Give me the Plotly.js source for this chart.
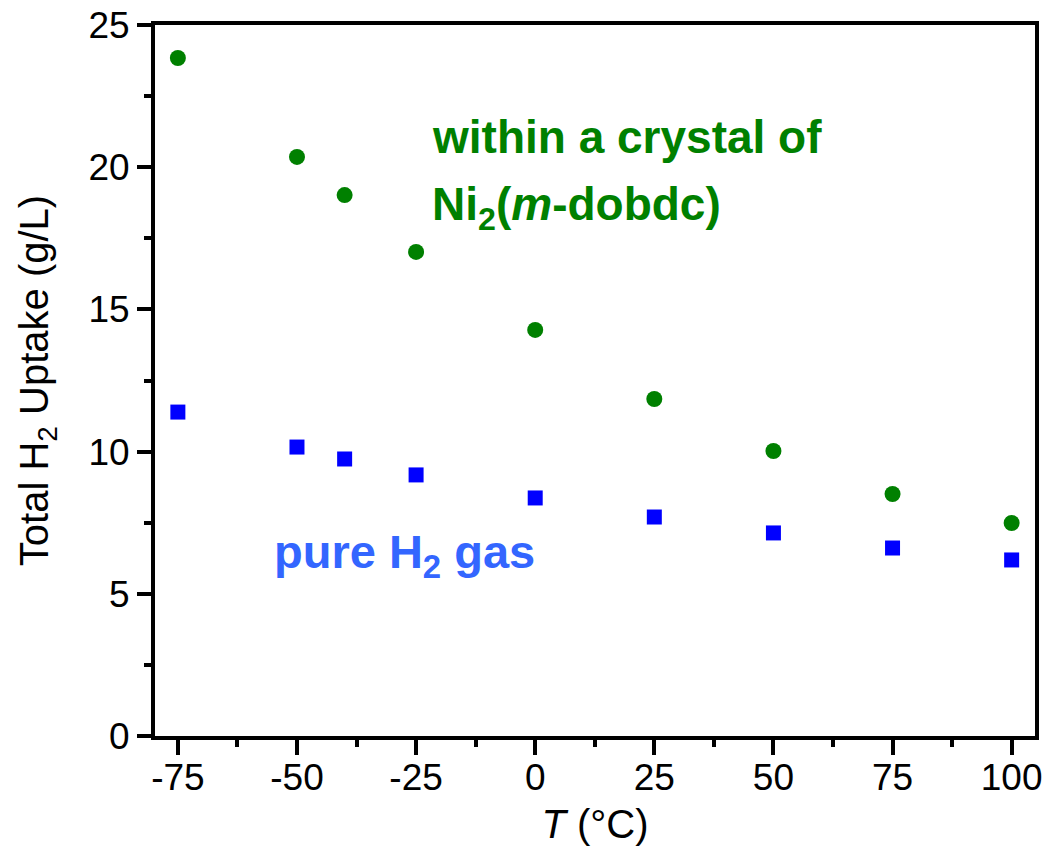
<!DOCTYPE html>
<html>
<head>
<meta charset="utf-8">
<script src="https://cdn.plot.ly/plotly-3.0.1.min.js"></script>
<style>html,body{margin:0;padding:0;background:#fff;}#chart{width:1047px;height:853px;}</style>
</head>
<body>
<div id="chart"></div>
<script>
// Data
const temperatures = [-75, -50, -40, -25, 0, 25, 50, 75, 100];
const crystalUptake = [23.84, 20.36, 19.02, 17.02, 14.28, 11.85, 10.02, 8.51, 7.49];
const pureGasUptake = [11.39, 10.16, 9.74, 9.18, 8.37, 7.70, 7.14, 6.61, 6.19];
const xTickVals = [-75, -50, -25, 0, 25, 50, 75, 100];
const xTickText = ["-75", "-50", "-25", "0", "25", "50", "75", "100"];
const yTickVals = [0, 5, 10, 15, 20, 25];
const yTickText = ["0", "5", "10", "15", "20", "25"];

const FONT = "Liberation Sans, Arial, Helvetica, sans-serif";
const GREEN = "#008000";
const BLUE = "#0000FF";
const TEXTBLUE = "#3366FF";

const traces = [
  {
    x: temperatures, y: crystalUptake, type: "scatter", mode: "markers",
    name: "within a crystal of Ni2(m-dobdc)",
    marker: {symbol: "circle", size: 16, color: GREEN, line: {width: 0}}
  },
  {
    x: temperatures, y: pureGasUptake, type: "scatter", mode: "markers",
    name: "pure H2 gas",
    marker: {symbol: "square", size: 15, color: BLUE, line: {width: 0}}
  }
];

const layout = {
  width: 1047, height: 853,
  margin: {l: 155, r: 12, t: 25, b: 117},
  paper_bgcolor: "#fff", plot_bgcolor: "#fff",
  showlegend: false,
  font: {family: FONT, color: "#000", size: 36},
  xaxis: {
    range: [-79.8, 104.9],
    tickmode: "array", tickvals: xTickVals, ticktext: xTickText,
    ticks: "outside", ticklen: 15, tickwidth: 4, tickcolor: "#000",
    ticklabelstandoff: -9,
    minor: {dtick: 12.5, tick0: -87.5, ticks: "outside", ticklen: 7, tickwidth: 4, tickcolor: "#000", showgrid: false},
    showline: true, linewidth: 4, linecolor: "#000", mirror: true,
    showgrid: false, zeroline: false,
    tickfont: {family: FONT, size: 37, color: "#000"},
    title: {text: "<i>T</i> (°C)", font: {family: FONT, size: 40, color: "#000"}, standoff: 14}
  },
  yaxis: {
    range: [0, 25],
    tickmode: "array", tickvals: yTickVals, ticktext: yTickText,
    ticks: "outside", ticklen: 14, tickwidth: 4, tickcolor: "#000",
    minor: {dtick: 2.5, tick0: 0, ticks: "outside", ticklen: 7, tickwidth: 4, tickcolor: "#000", showgrid: false},
    showline: true, linewidth: 4, linecolor: "#000", mirror: true,
    showgrid: false, zeroline: false,
    tickfont: {family: FONT, size: 37, color: "#000"},
    title: {text: "Total H<sub>2</sub> Uptake (g/L)", font: {family: FONT, size: 40, color: "#000"}, standoff: 28}
  },
  annotations: [
    {xref: "paper", yref: "paper", x: 0.3125, y: 0.8425, xanchor: "left", yanchor: "middle",
     showarrow: false, text: "<b>within a crystal of</b>", font: {family: FONT, size: 46, color: GREEN}},
    {xref: "paper", yref: "paper", x: 0.3125, y: 0.744, xanchor: "left", yanchor: "middle",
     showarrow: false, text: "<b>Ni<sub>2</sub>(<i>m</i>-dobdc)</b>", font: {family: FONT, size: 46, color: GREEN}},
    {xref: "paper", yref: "paper", x: 0.1330, y: 0.2546, xanchor: "left", yanchor: "middle",
     showarrow: false, text: "<b>pure H<sub>2</sub> gas</b>", font: {family: FONT, size: 47, color: TEXTBLUE}}
  ]
};

Plotly.newPlot("chart", traces, layout, {displayModeBar: false, staticPlot: true});
</script>
</body>
</html>
